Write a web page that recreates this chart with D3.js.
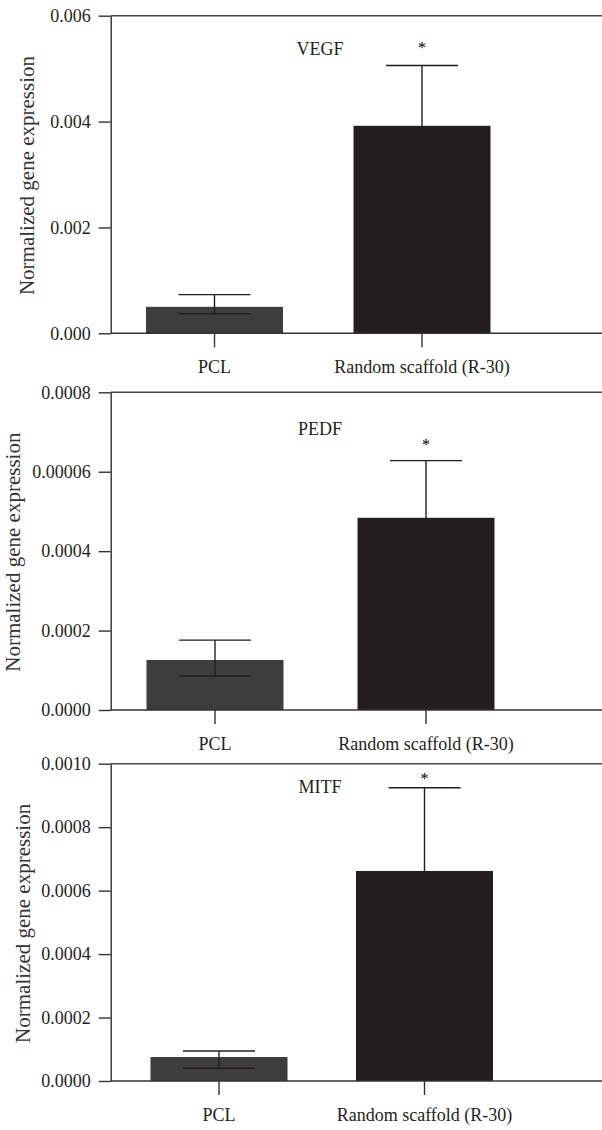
<!DOCTYPE html>
<html>
<head>
<meta charset="utf-8">
<script src="https://cdn.jsdelivr.net/npm/d3@7"></script>
<style>
  body { margin: 0; background: #fff; }
  svg { display: block; font-family: "Liberation Serif", "Times New Roman", serif; }
</style>
</head>
<body>
<svg id="chart" width="602" height="1130"></svg>
<script>
var categories = ["PCL", "Random scaffold (R-30)"];
var genes = ["VEGF", "PEDF", "MITF"];
var yLabel = "Normalized gene expression";

// bar heights (mean), one pair per gene
var vegfMeans = [0.0005, 0.00392];
var pedfMeans = [0.000126, 0.000484];
var mitfMeans = [0.0000756, 0.000662];

// error bar ends
var vegfHigh = [0.00073, 0.00506];
var vegfLow = [0.00037, 0.00278];
var pedfHigh = [0.000176, 0.000628];
var pedfLow = [0.0000856, 0.00034];
var mitfHigh = [0.0000945, 0.000924];
var mitfLow = [0.00004, 0.0004];

// y axes
var vegfDomain = [0, 0.006];
var pedfDomain = [0, 0.0008];
var mitfDomain = [0, 0.001];
var vegfTicks = [0, 0.002, 0.004, 0.006];
var pedfTicks = [0, 0.0002, 0.0004, 0.0006, 0.0008];
var mitfTicks = [0, 0.0002, 0.0004, 0.0006, 0.0008, 0.001];
var vegfTickLabels = ["0.000", "0.002", "0.004", "0.006"];
var pedfTickLabels = ["0.0000", "0.0002", "0.0004", "0.00006", "0.0008"];
var mitfTickLabels = ["0.0000", "0.0002", "0.0004", "0.0006", "0.0008", "0.0010"];

// significance marks (on the second bar)
var stars = ["*", "*", "*"];

var panels = [
  {gene: genes[0], means: vegfMeans, high: vegfHigh, low: vegfLow, domain: vegfDomain,
   ticks: vegfTicks, tickLabels: vegfTickLabels, star: stars[0]},
  {gene: genes[1], means: pedfMeans, high: pedfHigh, low: pedfLow, domain: pedfDomain,
   ticks: pedfTicks, tickLabels: pedfTickLabels, star: stars[1]},
  {gene: genes[2], means: mitfMeans, high: mitfHigh, low: mitfLow, domain: mitfDomain,
   ticks: mitfTicks, tickLabels: mitfTickLabels, star: stars[2]}
];

// page layout of each panel
var layouts = [
  {top: 15.7, bottom: 333.3, c0: 214.5, c1: 422, bw: 137, titleX: 29, geneY: 55, starGap: 21},
  {top: 392.3, bottom: 710, c0: 215, c1: 426, bw: 137, titleX: 15, geneY: 435, starGap: 20},
  {top: 763.7, bottom: 1081, c0: 219, c1: 424.5, bw: 137, titleX: 25, geneY: 793, starGap: 12.7}
];

var axisX = 110.7, rightEdge = 602;
var barColors = ["#3c3d3c", "#231f20"];
var ink = "#231f20";
var serif = "'Liberation Serif', 'Times New Roman', serif";

var svg = d3.select("#chart");

panels.forEach(function (p, i) {
  var L = layouts[i];
  var g = svg.append("g");

  var step = L.c1 - L.c0;
  var pin = 1 - L.bw / step;
  var x = d3.scaleBand()
    .domain(categories)
    .range([L.c0 - step / 2, L.c1 + step / 2])
    .paddingInner(pin)
    .paddingOuter(pin / 2);

  var y = d3.scaleLinear().domain(p.domain).range([L.bottom, L.top]);

  // bars
  g.selectAll("rect.bar")
    .data(categories)
    .enter().append("rect")
    .attr("class", "bar")
    .attr("x", function (c) { return x(c); })
    .attr("width", x.bandwidth())
    .attr("y", function (c, j) { return y(p.means[j]); })
    .attr("height", function (c, j) { return L.bottom - y(p.means[j]); })
    .attr("fill", function (c, j) { return barColors[j]; });

  // error bars
  var capHalf = 36;
  categories.forEach(function (c, j) {
    var cx = x(c) + x.bandwidth() / 2;
    var e = g.append("g")
      .attr("stroke", ink)
      .attr("stroke-width", 1.4)
      .attr("fill", "none");
    e.append("line")
      .attr("x1", cx).attr("x2", cx)
      .attr("y1", y(p.high[j])).attr("y2", y(p.low[j]));
    e.append("line")
      .attr("x1", cx - capHalf).attr("x2", cx + capHalf)
      .attr("y1", y(p.high[j])).attr("y2", y(p.high[j]));
    e.append("line")
      .attr("x1", cx - capHalf).attr("x2", cx + capHalf)
      .attr("y1", y(p.low[j])).attr("y2", y(p.low[j]));
  });

  // frame lines across the top and along the baseline
  g.append("line")
    .attr("x1", axisX).attr("x2", rightEdge)
    .attr("y1", y(p.domain[1])).attr("y2", y(p.domain[1]))
    .attr("stroke", "#4a4a4a").attr("stroke-width", 1.6);
  g.append("line")
    .attr("x1", axisX).attr("x2", rightEdge)
    .attr("y1", y(0)).attr("y2", y(0))
    .attr("stroke", "#333").attr("stroke-width", 1.5);

  // y axis
  var yAxis = d3.axisLeft(y)
    .tickValues(p.ticks)
    .tickFormat(function (d, k) { return p.tickLabels[k]; })
    .tickSizeInner(12)
    .tickSizeOuter(0)
    .tickPadding(8);
  var ya = g.append("g")
    .attr("transform", "translate(" + axisX + ",0)")
    .call(yAxis)
    .attr("font-family", serif)
    .attr("font-size", 18);
  ya.select(".domain").attr("stroke", "#222").attr("stroke-width", 1.3);
  ya.selectAll(".tick line").attr("stroke", "#333").attr("stroke-width", 1.4);
  ya.selectAll(".tick text").attr("fill", ink);

  // x axis
  var xAxis = d3.axisBottom(x)
    .tickSizeInner(14)
    .tickSizeOuter(0)
    .tickPadding(13);
  var xa = g.append("g")
    .attr("transform", "translate(0," + L.bottom + ")")
    .call(xAxis)
    .attr("font-family", serif)
    .attr("font-size", 18);
  xa.select(".domain").remove();
  xa.selectAll(".tick line").attr("stroke", "#333").attr("stroke-width", 1.4);
  xa.selectAll(".tick text").attr("fill", ink);

  // y title
  g.append("text")
    .attr("transform", "translate(" + L.titleX + "," + ((L.top + L.bottom) / 2 + 1) + ") rotate(-90)")
    .attr("text-anchor", "middle")
    .attr("dominant-baseline", "middle")
    .attr("fill", "#333")
    .style("font-size", "21px")
    .text(yLabel);

  // gene name
  g.append("text")
    .attr("x", 320)
    .attr("y", L.geneY)
    .attr("text-anchor", "middle")
    .attr("fill", ink)
    .style("font-size", "18px")
    .text(p.gene);

  // star over the scaffold bar
  var sx = x(categories[1]) + x.bandwidth() / 2;
  g.append("text")
    .attr("x", sx)
    .attr("y", y(p.high[1]) - L.starGap + 9)
    .attr("text-anchor", "middle")
    .attr("fill", "#000")
    .style("font-size", "16px")
    .text(p.star);
});
</script>
</body>
</html>
